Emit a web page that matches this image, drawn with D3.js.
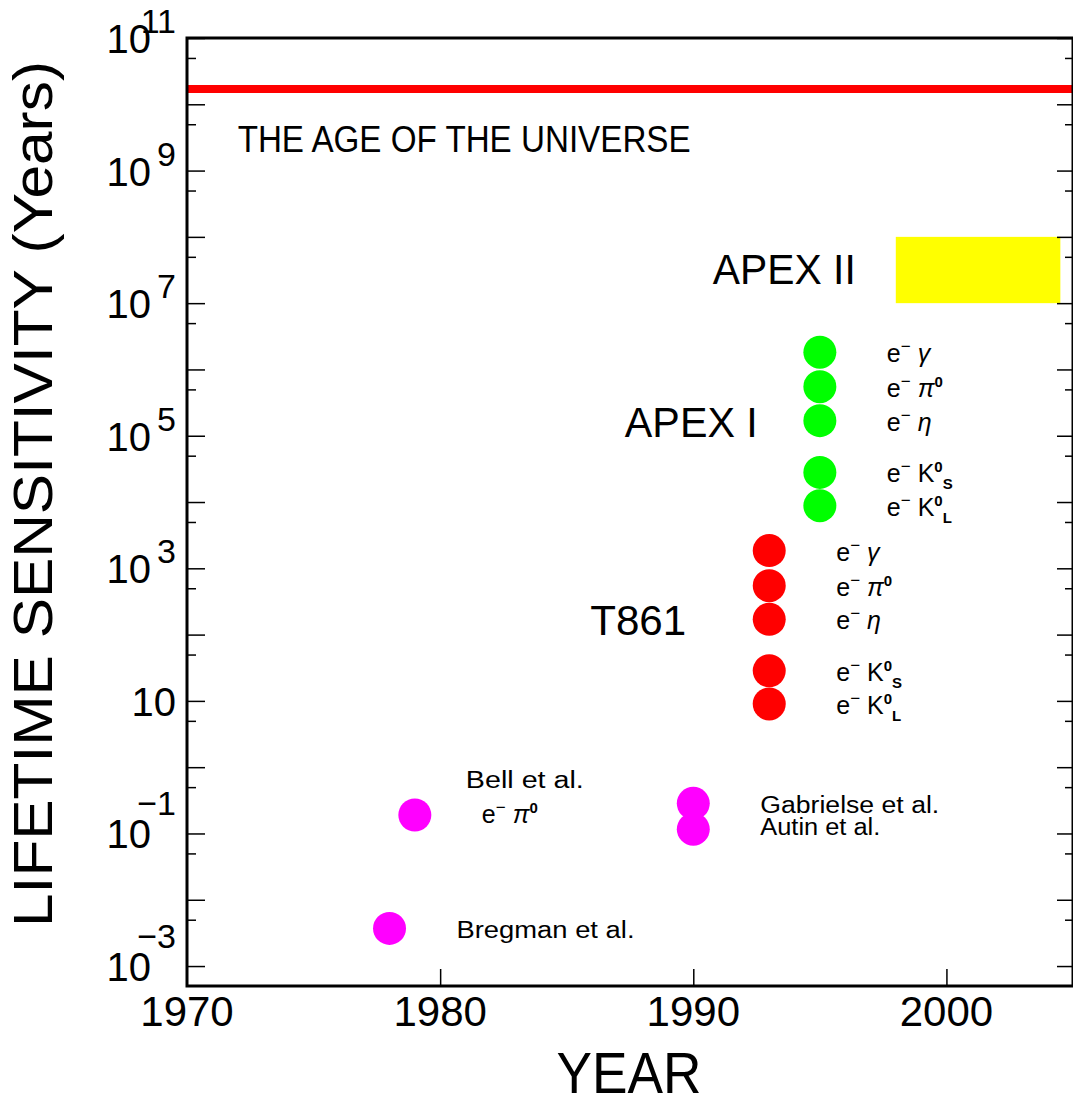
<!DOCTYPE html>
<html>
<head>
<meta charset="utf-8">
<script src="https://cdn.jsdelivr.net/npm/d3@7"></script>
<style>
  body { margin: 0; background: #fff; }
  text { font-family: "Liberation Sans", Arial, sans-serif; fill: #000; }
</style>
</head>
<body>
<div id="chart"></div>
<script>
// Plot ranges
const yearDomain = [1970, 2005];
const lifetimeDomain = [5e-4, 1e11];

// Ticks
const yearTicks = [1970, 1980, 1990, 2000];
const decadeTicks = d3.range(-3, 12).map(e => Math.pow(10, e));
const halfDecadeTicks = d3.range(-3, 11).map(e => 5 * Math.pow(10, e));
const labelExponents = [-3, -1, 1, 3, 5, 7, 9, 11];

// Decay channels e- X (same order for T861 and APEX I)
const decayParticles = ["γ", "π", "η", "K", "K"];
const decaySuperscripts = ["", "0", "", "0", "0"];
const decaySubscripts = ["", "", "", "S", "L"];

// T861 (1993)
const t861Year = 1993;
const t861Lifetimes = [1850, 547, 170, 28.5, 9.0];

// APEX I (1995)
const apex1Year = 1995;
const apex1Lifetimes = [1.82e6, 5.5e5, 1.69e5, 2.8e4, 8.8e3];

// APEX II projected band
const apex2Years = [1998, 2004.5];
const apex2Lifetimes = [1e7, 1e8];

// Earlier experiments
const earlierNames = ["Bregman et al.", "Bell et al.", "Gabrielse et al.", "Autin et al."];
const earlierYears = [1978, 1979, 1990, 1990];
const earlierLifetimes = [3.7e-3, 0.19, 0.285, 0.116];

// Age of the universe (years)
const universeAge = 1.7e10;

const W = 1073, H = 1103;
const margin = { top: 38, left: 187, right: 0, bottom: 117 };
const width = W - margin.left - margin.right;
const height = H - margin.top - margin.bottom;

const svg = d3.select("#chart").append("svg")
    .attr("width", W)
    .attr("height", H)
    .attr("viewBox", `0 0 ${W} ${H}`);

const g = svg.append("g")
    .attr("transform", `translate(${margin.left},${margin.top})`);

const x = d3.scaleLinear().domain(yearDomain).range([0, width]);
const y = d3.scaleLog().domain(lifetimeDomain).range([height, 0]);

// clip everything to the frame
svg.append("defs").append("clipPath").attr("id", "plot-clip")
    .append("rect").attr("width", width).attr("height", height);
const plot = g.append("g").attr("clip-path", "url(#plot-clip)");

// Age of the universe line
plot.append("line")
    .attr("x1", x(yearDomain[0]))
    .attr("x2", x(yearDomain[1]))
    .attr("y1", y(universeAge))
    .attr("y2", y(universeAge))
    .attr("stroke", "#ff0000")
    .attr("stroke-width", 8);

g.append("text")
    .attr("x", x(1972))
    .attr("y", y(universeAge) + 63)
    .attr("font-size", 36)
    .attr("textLength", 453)
    .attr("lengthAdjust", "spacingAndGlyphs")
    .text("THE AGE OF THE UNIVERSE");

// APEX II band
plot.append("rect")
    .attr("x", x(apex2Years[0]))
    .attr("width", x(apex2Years[1]) - x(apex2Years[0]))
    .attr("y", y(apex2Lifetimes[1]))
    .attr("height", y(apex2Lifetimes[0]) - y(apex2Lifetimes[1]))
    .attr("fill", "#ffff00");

// Ticks: decades long, 5x10^n short, left and right, inward
function drawTicks(axis, values, size, tx) {
    g.append("g")
        .attr("transform", `translate(${tx},0)`)
        .call(axis.tickValues(values).tickSize(-size).tickSizeOuter(0).tickFormat(""))
        .call(a => a.select(".domain").remove())
        .call(a => a.selectAll("line").attr("stroke", "#000").attr("stroke-width", 1.5));
}
drawTicks(d3.axisLeft(y), decadeTicks, 18, 0);
drawTicks(d3.axisLeft(y), halfDecadeTicks, 9, 0);
drawTicks(d3.axisRight(y), decadeTicks, 16, width);
drawTicks(d3.axisRight(y), halfDecadeTicks, 8, width);

g.append("g")
    .attr("transform", `translate(0,${height})`)
    .call(d3.axisBottom(x).tickValues(yearTicks.slice(1)).tickSize(-17).tickSizeOuter(0).tickFormat(""))
    .call(a => a.select(".domain").remove())
    .call(a => a.selectAll("line").attr("stroke", "#000").attr("stroke-width", 1.5));

// Year labels
g.selectAll(".year-label")
    .data(yearTicks)
    .enter().append("text")
    .attr("class", "year-label")
    .attr("x", d => x(d))
    .attr("y", height + 40)
    .attr("text-anchor", "middle")
    .attr("font-size", 42)
    .text(d => d);

// Lifetime labels 10^n
const yLabels = g.selectAll(".y-label")
    .data(labelExponents)
    .enter().append("g")
    .attr("class", "y-label")
    .attr("transform", d => `translate(0,${y(Math.pow(10, d))})`);

yLabels.append("text")
    .attr("x", d => d === 1 ? -11 : -36)
    .attr("y", 15)
    .attr("text-anchor", "end")
    .attr("font-size", 40)
    .text("10");

// exponent: negative ones sit higher
yLabels.filter(d => d !== 1).append("text")
    .attr("x", -11)
    .attr("y", d => d < 0 ? -18 : -5)
    .attr("text-anchor", "end")
    .attr("font-size", 34)
    .text(d => (d < 0 ? "\u2212" : "") + Math.abs(d));

// e- X label with superscripts / subscripts
function decayLabel(text, i) {
    text.append("tspan").text("e");
    text.append("tspan").attr("font-size", 17).attr("dy", -10).text("\u2212");
    text.append("tspan").attr("dy", 10).text("\u00a0");
    text.append("tspan")
        .attr("font-style", decayParticles[i] === "K" ? "normal" : "italic")
        .text(decayParticles[i]);
    if (decaySuperscripts[i]) {
        text.append("tspan").attr("font-size", 15).attr("font-weight", "bold")
            .attr("dy", -10).text(decaySuperscripts[i]);
    }
    if (decaySubscripts[i]) {
        text.append("tspan").attr("font-size", 15).attr("font-weight", "bold")
            .attr("dy", 17).text(decaySubscripts[i]);
    }
}

// Draw a column of decay channel points
function drawChannels(year, lifetimes, color, name) {
    plot.selectAll(".dot-" + name)
        .data(lifetimes)
        .enter().append("circle")
        .attr("class", "dot-" + name)
        .attr("cx", x(year))
        .attr("cy", d => y(d))
        .attr("r", 16.5)
        .attr("fill", color);

    g.selectAll(".lab-" + name)
        .data(lifetimes)
        .enter().append("text")
        .attr("class", "lab-" + name)
        .attr("x", x(year) + 67)
        .attr("y", d => y(d) + 10)
        .attr("font-size", 25)
        .each(function (d, i) { decayLabel(d3.select(this), i); });
}

drawChannels(t861Year, t861Lifetimes, "#ff0000", "t861");
drawChannels(apex1Year, apex1Lifetimes, "#00ff00", "apex1");

// Experiment names
g.append("text")
    .attr("x", x(apex2Years[0]) - 40)
    .attr("y", y(apex2Lifetimes[0]) - 19)
    .attr("text-anchor", "end")
    .attr("font-size", 43)
    .attr("textLength", 143)
    .attr("lengthAdjust", "spacingAndGlyphs")
    .text("APEX II");

g.append("text")
    .attr("x", x(apex1Year) - 62)
    .attr("y", y(apex1Lifetimes[2]) + 16)
    .attr("text-anchor", "end")
    .attr("font-size", 43)
    .attr("textLength", 133)
    .attr("lengthAdjust", "spacingAndGlyphs")
    .text("APEX I");

g.append("text")
    .attr("x", x(t861Year) - 83)
    .attr("y", y(t861Lifetimes[2]) + 16)
    .attr("text-anchor", "end")
    .attr("font-size", 43)
    .attr("textLength", 96)
    .attr("lengthAdjust", "spacingAndGlyphs")
    .text("T861");

// Earlier experiments, magenta
plot.selectAll(".dot-early")
    .data(earlierYears)
    .enter().append("circle")
    .attr("class", "dot-early")
    .attr("cx", d => x(d))
    .attr("cy", (d, i) => y(earlierLifetimes[i]))
    .attr("r", 16.5)
    .attr("fill", "#ff00ff");

// label offsets [dx, dy, width]
const earlyLabelPos = {
    "Bregman et al.": [67, 10, 178],
    "Bell et al.": [51, -27, 118],
    "Gabrielse et al.": [67, 10, 179],
    "Autin et al.": [67, 6, 120]
};
g.selectAll(".lab-early")
    .data(earlierNames)
    .enter().append("text")
    .attr("class", "lab-early")
    .attr("x", (d, i) => x(earlierYears[i]) + earlyLabelPos[d][0])
    .attr("y", (d, i) => y(earlierLifetimes[i]) + earlyLabelPos[d][1])
    .attr("font-size", 23)
    .attr("textLength", d => earlyLabelPos[d][2])
    .attr("lengthAdjust", "spacingAndGlyphs")
    .text(d => d);

// Bell et al. channel e- pi0
g.append("text")
    .attr("x", x(earlierYears[1]) + 67)
    .attr("y", y(earlierLifetimes[1]) + 8)
    .attr("font-size", 25)
    .call(t => decayLabel(t, 1));

// Frame
g.append("rect")
    .attr("width", width)
    .attr("height", height)
    .attr("fill", "none")
    .attr("stroke", "#000")
    .attr("stroke-width", 3);

// Axis titles
svg.append("text")
    .attr("x", 629)
    .attr("y", 1093)
    .attr("text-anchor", "middle")
    .attr("font-size", 58)
    .attr("textLength", 145)
    .attr("lengthAdjust", "spacingAndGlyphs")
    .text("YEAR");

svg.append("text")
    .attr("transform", "translate(52,494) rotate(-90)")
    .attr("text-anchor", "middle")
    .attr("font-size", 56)
    .attr("textLength", 866)
    .attr("lengthAdjust", "spacingAndGlyphs")
    .text("LIFETIME SENSITIVITY (Years)");
</script>
</body>
</html>
